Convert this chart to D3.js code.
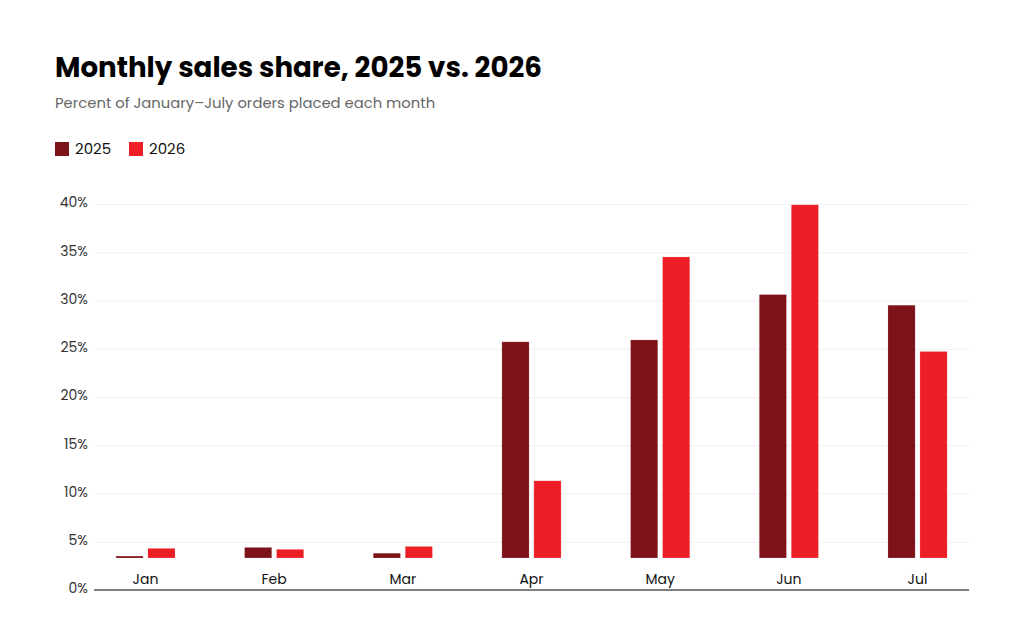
<!DOCTYPE html>
<html>
<head>
<meta charset="utf-8">
<script src="https://cdn.jsdelivr.net/npm/d3@7"></script>
<style>
  body { margin: 0; background: #fff; }
  text { font-family: Poppins, Inter, "Noto Sans", sans-serif; }
</style>
</head>
<body>
<div class="graph"></div>
<script>
  // share of Jan-Jul orders, percent
  const months = ['Jan', 'Feb', 'Mar', 'Apr', 'May', 'Jun', 'Jul'];
  const years = ['2025', '2026'];
  const sales2025 = [0.2, 1.1, 0.5, 22.4, 22.6, 27.3, 26.2];
  const sales2026 = [1.0, 0.9, 1.2, 8.0, 31.2, 36.6, 21.4];
  const yTicks = [0, 5, 10, 15, 20, 25, 30, 35, 40];
  const colors = ['#7d1218', '#ed1e26'];

  const data = months.map((m, i) => ({ month: m, values: [sales2025[i], sales2026[i]] }));

  const margin = { top: 204, left: 94, bottom: 47, right: 55 };
  const width = 1024 - margin.left - margin.right;
  const height = 637 - margin.top - margin.bottom;
  const labelGap = 32;

  const svg = d3.select('.graph')
    .append('svg')
    .attr('width', 1024)
    .attr('height', 637);

  svg.append('text')
    .attr('x', 55)
    .attr('y', 77)
    .attr('font-size', 27.7)
    .attr('font-weight', 700)
    .attr('fill', '#000')
    .text('Monthly sales share, 2025 vs. 2026');

  svg.append('text')
    .attr('x', 55)
    .attr('y', 108)
    .attr('font-size', 14.8)
    .attr('fill', '#666')
    .text('Percent of January\u2013July orders placed each month');

  const legend = svg.append('g')
    .attr('transform', 'translate(55,142)');

  const legendItems = legend.selectAll('g')
    .data(years)
    .enter()
    .append('g')
    .attr('transform', (d, i) => `translate(${i * 74},0)`);

  legendItems.append('rect')
    .attr('width', 14)
    .attr('height', 14)
    .attr('fill', (d, i) => colors[i]);

  legendItems.append('text')
    .attr('x', 20)
    .attr('y', 12)
    .attr('font-size', 15)
    .attr('fill', '#111')
    .text(d => d);

  const g = svg.append('g')
    .attr('transform', `translate(${margin.left},${margin.top})`);

  const xScale = d3.scaleBand()
    .domain(months)
    .range([0, width])
    .paddingInner(0.54)
    .paddingOuter(0.17);

  const xInner = d3.scaleBand()
    .domain(years)
    .range([0, xScale.bandwidth()])
    .paddingInner(0.15);

  const yScale = d3.scaleLinear()
    .domain([0, 40])
    .range([height, 0]);

  // gridlines + y labels
  const yAxis = d3.axisLeft(yScale)
    .tickValues(yTicks)
    .tickSize(-width)
    .tickPadding(6)
    .tickFormat(d => d + '%');

  g.append('g')
    .attr('class', 'y-axis')
    .call(yAxis)
    .call(s => s.select('.domain').remove())
    .call(s => s.selectAll('.tick line').attr('stroke', '#f0f0f0'))
    .call(s => s.selectAll('.tick text')
      .attr('font-size', 14)
      .attr('dy', '0.2em')
      .attr('fill', '#333'));

  g.append('line')
    .attr('x1', 0)
    .attr('x2', width)
    .attr('y1', height)
    .attr('y2', height)
    .attr('stroke', '#555')
    .attr('stroke-width', 1.5);

  const groups = g.selectAll('.month')
    .data(data)
    .enter()
    .append('g')
    .attr('class', 'month')
    .attr('transform', d => `translate(${xScale(d.month)},0)`);

  // bars sit on a baseline lifted above the month labels
  groups.selectAll('rect')
    .data(d => d.values.map((v, i) => ({ year: years[i], value: v, i: i })))
    .enter()
    .append('rect')
    .attr('x', d => xInner(d.year))
    .attr('width', xInner.bandwidth())
    .attr('y', d => yScale(d.value) - labelGap)
    .attr('height', d => height - yScale(d.value))
    .attr('fill', d => colors[d.i])
    .attr('stroke', '#fff')
    .attr('stroke-opacity', 0.35)
    .attr('stroke-width', 0.5);

  groups.append('text')
    .attr('x', xScale.bandwidth() / 2)
    .attr('y', height - 6)
    .attr('text-anchor', 'middle')
    .attr('font-size', 14)
    .attr('fill', '#111')
    .text(d => d.month);
</script>
</body>
</html>
